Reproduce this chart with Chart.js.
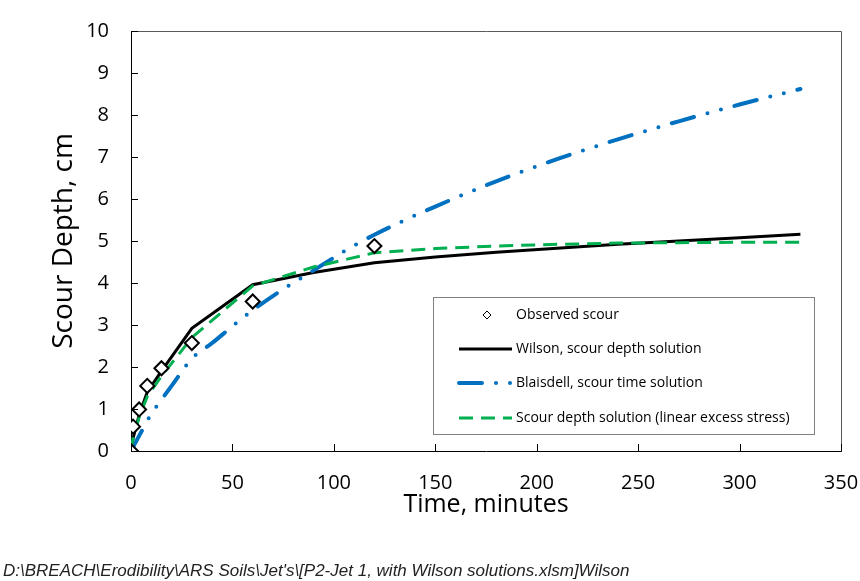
<!DOCTYPE html>
<html>
<head>
<meta charset="utf-8">
<script src="https://cdn.jsdelivr.net/npm/chart.js@4/dist/chart.umd.min.js"></script>
<style>
  body { margin: 0; background: #fff; }
  #wrap { width: 860px; height: 581px; position: relative; }
</style>
</head>
<body>
<div id="wrap"><canvas id="scourChart" width="860" height="581"></canvas></div>
<script>
// observed jet test scour
var obsTime  = [0, 1, 4, 8, 15, 30, 60, 120];
var obsDepth = [0, 0.58, 0.99, 1.55, 1.97, 2.57, 3.56, 4.88];

// Wilson scour depth solution
var wilsonTime  = [0, 1, 4, 8, 15, 30, 60, 90, 120, 150, 180, 210, 240, 270, 300, 330];
var wilsonDepth = [0, 0.3, 0.85, 1.4, 1.9, 2.92, 3.96, 4.25, 4.48, 4.62, 4.73, 4.83, 4.92, 5.0, 5.08, 5.16];

// Blaisdell scour time solution
var blaisTime  = [0, 5, 10, 15, 20, 30, 40, 50, 60, 75, 90, 105, 120, 150, 180, 210, 240, 270, 300, 330];
var blaisDepth = [0, 0.45, 0.88, 1.22, 1.55, 2.2, 2.57, 2.97, 3.35, 3.85, 4.3, 4.75, 5.15, 5.82, 6.42, 6.95, 7.42, 7.85, 8.25, 8.62];

// linear excess stress solution
var linTime  = [0, 1, 4, 8, 15, 30, 60, 90, 120, 150, 180, 210, 240, 270, 300, 330];
var linDepth = [0, 0.3, 0.8, 1.3, 1.78, 2.7, 3.93, 4.38, 4.72, 4.82, 4.88, 4.92, 4.95, 4.96, 4.97, 4.97];

var legendLabels = ['Observed scour', 'Wilson, scour depth solution', 'Blaisdell, scour time solution', 'Scour depth solution (linear excess stress)'];
var footerText = "D:\\BREACH\\Erodibility\\ARS Soils\\Jet's\\[P2-Jet 1, with Wilson solutions.xlsm]Wilson";

function pts(xs, ys) {
  return xs.map(function (x, i) { return { x: x, y: ys[i] }; });
}

var FONT = '"Open Sans", "Liberation Sans", sans-serif';

// gray frame on the top and right of the plot area
var plotFrame = {
  id: 'plotFrame',
  beforeDatasetsDraw: function (chart) {
    var ctx = chart.ctx, a = chart.chartArea;
    var l = Math.round(a.left) + 0.5, r = Math.round(a.right) + 0.5;
    var t = Math.round(a.top) + 0.5, b = Math.round(a.bottom) + 0.5;
    ctx.save();
    ctx.strokeStyle = '#595959';
    ctx.lineWidth = 1;
    ctx.beginPath();
    ctx.moveTo(l, t); ctx.lineTo(r, t); ctx.lineTo(r, b);
    ctx.stroke();
    ctx.restore();
  }
};

// tick marks drawn inward from the axes
var innerTicks = {
  id: 'innerTicks',
  afterDraw: function (chart) {
    var ctx = chart.ctx, xs = chart.scales.x, ys = chart.scales.y;
    var area = chart.chartArea;
    ctx.save();
    ctx.strokeStyle = '#000';
    ctx.lineWidth = 1;
    ctx.beginPath();
    xs.ticks.forEach(function (t) {
      var px = Math.round(xs.getPixelForValue(t.value)) + 0.5;
      ctx.moveTo(px, area.bottom);
      ctx.lineTo(px, area.bottom - 7);
    });
    ys.ticks.forEach(function (t) {
      var py = Math.round(ys.getPixelForValue(t.value)) + 0.5;
      ctx.moveTo(area.left, py);
      ctx.lineTo(area.left + 7, py);
    });
    ctx.stroke();
    ctx.restore();
  }
};

// boxed legend inside the plot, plus file path footer
var boxLegend = {
  id: 'boxLegend',
  afterDraw: function (chart) {
    var ctx = chart.ctx;
    var bx = 433.5, by = 297.5, bw = 381, bh = 137;
    ctx.save();
    ctx.fillStyle = '#fff';
    ctx.fillRect(bx, by, bw, bh);
    ctx.strokeStyle = '#7f7f7f';
    ctx.lineWidth = 1;
    ctx.strokeRect(bx, by, bw, bh);

    var rows = [315, 349, 383, 418];
    ctx.font = '14px ' + FONT;
    ctx.fillStyle = '#000';
    ctx.textBaseline = 'middle';
    ctx.textAlign = 'left';
    chart.data.datasets.forEach(function (ds, i) {
      var y = rows[i];
      ctx.save();
      if (i === 0) {
        ctx.strokeStyle = '#000';
        ctx.lineWidth = 1;
        ctx.beginPath();
        ctx.moveTo(487, y - 4); ctx.lineTo(491, y); ctx.lineTo(487, y + 4); ctx.lineTo(483, y);
        ctx.closePath();
        ctx.stroke();
      } else {
        ctx.strokeStyle = ds.borderColor;
        ctx.lineWidth = ds.borderWidth;
        ctx.lineCap = ds.borderCapStyle || 'butt';
        ctx.setLineDash(ds.borderDash || []);
        ctx.beginPath();
        ctx.moveTo(459, y); ctx.lineTo(512, y);
        ctx.stroke();
      }
      ctx.restore();
      ctx.fillText(legendLabels[i], 516, y);
    });

    ctx.font = 'italic 17px "Liberation Sans", sans-serif';
    ctx.fillStyle = '#222';
    ctx.fillText(footerText, 3, 571);
    ctx.restore();
  }
};

var scourCtx = document.getElementById('scourChart').getContext('2d');

var scourChart = new Chart(scourCtx, {
  type: 'scatter',
  data: {
    datasets: [{
      label: legendLabels[0],
      data: pts(obsTime, obsDepth),
      pointStyle: 'rectRot',
      pointRadius: 7,
      pointBorderWidth: 2,
      pointBackgroundColor: '#fff',
      pointBorderColor: '#000',
      showLine: false,
      order: 0
    }, {
      label: legendLabels[1],
      data: pts(wilsonTime, wilsonDepth),
      showLine: true,
      borderColor: '#000',
      borderWidth: 3,
      pointRadius: 0,
      tension: 0,
      order: 3
    }, {
      label: legendLabels[2],
      data: pts(blaisTime, blaisDepth),
      showLine: true,
      borderColor: '#0070c0',
      borderWidth: 4,
      borderCapStyle: 'round',
      borderDash: [23, 14, 0, 14, 0, 14],
      pointRadius: 0,
      cubicInterpolationMode: 'monotone',
      order: 2
    }, {
      label: legendLabels[3],
      data: pts(linTime, linDepth),
      showLine: true,
      borderColor: '#00b050',
      borderWidth: 3,
      borderDash: [14, 8],
      pointRadius: 0,
      tension: 0,
      order: 1
    }]
  },
  options: {
    responsive: false,
    animation: false,
    events: [],
    layout: { padding: { top: 31, right: 19, left: 0, bottom: 0 } },
    plugins: {
      legend: { display: false },
      tooltip: { enabled: false }
    },
    scales: {
      x: {
        type: 'linear',
        min: 0, max: 350,
        afterFit: function (s) { s.height = 130; s.paddingLeft = 0; s.paddingRight = 0; },
        grid: { display: false, drawTicks: false },
        border: { display: true, color: '#000', width: 1 },
        ticks: { stepSize: 50, padding: 20, color: '#000', font: { family: FONT, size: 20 } },
        title: { display: true, text: 'Time, minutes', color: '#000', padding: { top: 0, bottom: 61 }, font: { family: FONT, size: 25 } }
      },
      y: {
        type: 'linear',
        min: 0, max: 10,
        afterFit: function (s) { s.width = 131; s.paddingTop = 0; s.paddingBottom = 0; },
        grid: { display: false, drawTicks: false },
        border: { display: true, color: '#000', width: 1 },
        ticks: { stepSize: 1, padding: 22, color: '#000', font: { family: FONT, size: 20 } },
        title: { display: true, text: 'Scour Depth, cm', color: '#000', padding: { top: 47, bottom: 0 }, font: { family: FONT, size: 28 } }
      }
    }
  },
  plugins: [plotFrame, innerTicks, boxLegend]
});
</script>
</body>
</html>
